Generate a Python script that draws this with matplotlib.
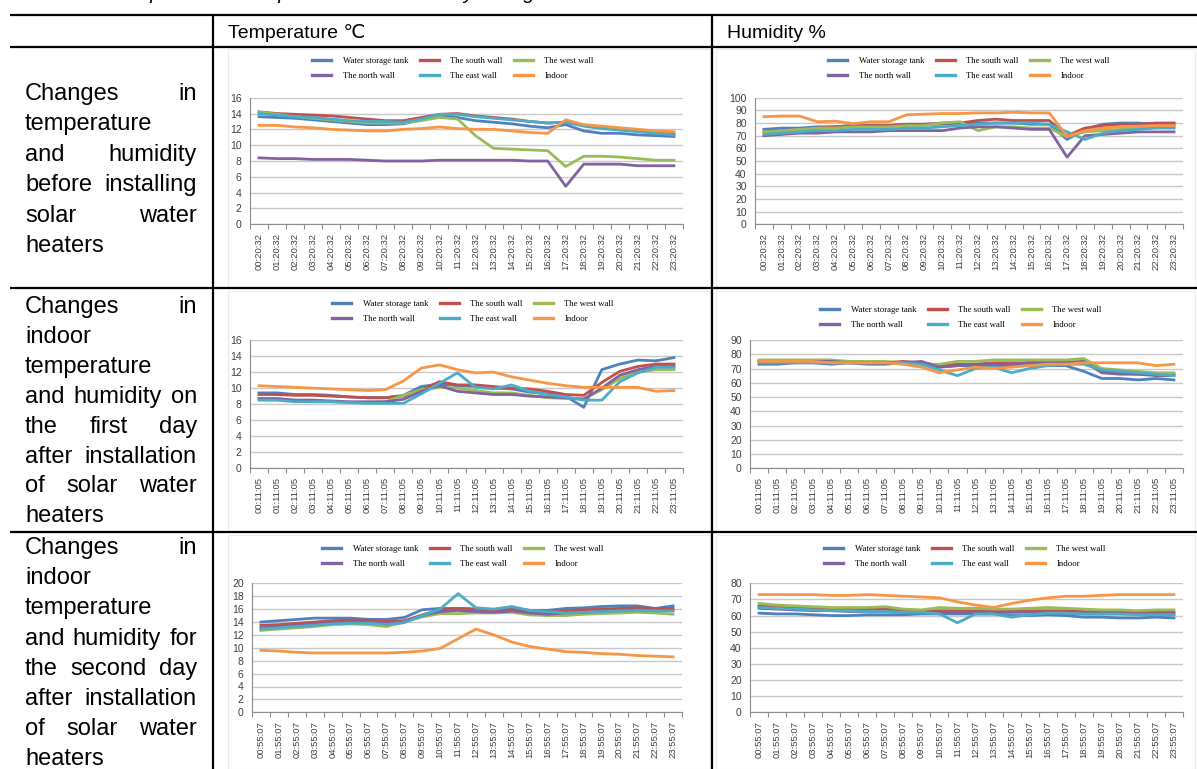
import numpy as np
import matplotlib
matplotlib.use("Agg")
import matplotlib.pyplot as plt
from matplotlib.lines import Line2D
from matplotlib.font_manager import FontProperties

W, H = 1197, 769
fig = plt.figure(figsize=(W / 100, H / 100), dpi=100)
fig.patch.set_facecolor("white")

# ---------------- data ----------------
series_names = ["Water storage tank", "The south wall", "The west wall",
                "The north wall", "The east wall", "Indoor"]
series_colors = ["#4F81BD", "#C0504D", "#9BBB59", "#8064A2", "#4BACC6", "#F79646"]

labels_before = ["%02d:20:32" % h for h in range(24)]
labels_day1 = ["%02d:11:05" % h for h in range(24)]
labels_day2 = ["%02d:55:07" % h for h in range(24)]

# Temperature before installation
t0_tank = [13.6, 13.5, 13.4, 13.2, 13.0, 12.8, 12.6, 12.6, 12.7, 13.2, 13.8, 13.5,
           13.1, 12.9, 12.7, 12.4, 12.2, 12.6, 11.8, 11.5, 11.5, 11.3, 11.2, 11.1]
t0_south = [14.2, 14.0, 13.9, 13.8, 13.7, 13.5, 13.3, 13.1, 13.1, 13.5, 13.9, 14.0,
            13.7, 13.5, 13.3, 13.0, 12.8, 12.9, 12.5, 12.2, 12.0, 11.8, 11.6, 11.4]
t0_west = [14.2, 13.9, 13.6, 13.4, 13.2, 13.0, 12.8, 12.8, 12.8, 13.1, 13.5, 13.3,
           11.2, 9.6, 9.5, 9.4, 9.3, 7.3, 8.6, 8.6, 8.5, 8.3, 8.1, 8.1]
t0_north = [8.4, 8.3, 8.3, 8.2, 8.2, 8.2, 8.1, 8.0, 8.0, 8.0, 8.1, 8.1,
            8.1, 8.1, 8.1, 8.0, 8.0, 4.8, 7.6, 7.6, 7.6, 7.4, 7.4, 7.4]
t0_east = [14.0, 13.8, 13.6, 13.5, 13.3, 13.1, 13.0, 13.0, 12.9, 13.3, 13.9, 13.9,
           13.6, 13.4, 13.2, 13.0, 12.8, 12.9, 12.4, 12.1, 11.9, 11.7, 11.5, 11.3]
t0_indoor = [12.5, 12.5, 12.3, 12.2, 12.0, 11.9, 11.8, 11.8, 12.0, 12.1, 12.3, 12.1,
             12.0, 12.0, 11.8, 11.6, 11.5, 13.2, 12.6, 12.4, 12.2, 12.0, 11.8, 11.7]

# Humidity before installation
h0_tank = [75, 76, 76, 77, 77, 78, 78, 78, 79, 79, 79, 80,
           80, 80, 80, 79, 79, 67, 75, 79, 80, 80, 79, 79]
h0_south = [73, 74, 75, 76, 77, 78, 78, 78, 79, 79, 80, 80,
            82, 83, 82, 82, 82, 70, 76, 78, 79, 79, 80, 80]
h0_west = [73, 74, 75, 76, 76, 77, 77, 77, 78, 78, 80, 81,
           74, 77, 77, 76, 76, 69, 73, 74, 75, 76, 77, 77]
h0_north = [70, 71, 72, 72, 73, 73, 73, 74, 74, 74, 74, 76,
            77, 77, 76, 75, 75, 53, 70, 71, 72, 73, 73, 73]
h0_east = [71, 72, 73, 74, 74, 75, 75, 75, 76, 76, 77, 78,
           79, 80, 80, 80, 79, 73, 67, 72, 74, 75, 76, 76]
h0_indoor = [85, 85.5, 85.5, 81, 81.5, 79.5, 81, 81, 86.5, 87, 87.5, 87.5,
             88, 88, 88.5, 88, 88, 69.5, 74, 76, 77, 77.5, 78, 78]

# Temperature, first day after installation
t1_tank = [9.4, 9.4, 9.2, 9.2, 9.1, 8.9, 8.8, 8.8, 9.1, 10.2, 10.5, 10.3,
           10.2, 10.0, 9.9, 9.5, 9.3, 9.0, 7.6, 12.3, 13.0, 13.5, 13.4, 13.8]
t1_south = [9.2, 9.2, 9.1, 9.1, 9.0, 8.9, 8.8, 8.8, 9.0, 9.8, 10.8, 10.4,
            10.4, 10.2, 10.0, 9.9, 9.6, 9.2, 9.1, 10.7, 12.1, 12.7, 13.0, 13.0]
t1_west = [8.7, 8.6, 8.4, 8.3, 8.3, 8.2, 8.2, 8.3, 9.1, 9.8, 10.1, 10.0,
           9.7, 9.4, 9.4, 9.1, 8.8, 8.7, 8.7, 9.8, 11.2, 12.0, 12.3, 12.3]
t1_north = [8.7, 8.7, 8.5, 8.5, 8.4, 8.3, 8.3, 8.3, 8.6, 9.6, 10.3, 9.6,
            9.4, 9.2, 9.2, 9.0, 8.9, 8.8, 8.6, 10.0, 11.6, 12.3, 12.7, 12.7]
t1_east = [8.5, 8.5, 8.3, 8.3, 8.3, 8.2, 8.1, 8.1, 8.1, 9.3, 10.6, 11.9,
           10.1, 9.9, 10.4, 9.6, 9.2, 8.9, 8.5, 8.5, 10.8, 11.9, 12.6, 12.6]
t1_indoor = [10.3, 10.2, 10.1, 10.0, 9.9, 9.8, 9.7, 9.8, 10.9, 12.5, 12.9, 12.3,
             11.9, 12.0, 11.4, 11.0, 10.6, 10.3, 10.1, 10.1, 10.1, 10.1, 9.6, 9.7]

# Humidity, first day after installation
h1_tank = [73, 73, 74, 74, 73, 74, 73, 73, 74, 73, 71, 72,
           72, 72, 72, 72, 72, 72, 68, 63, 63, 62, 63, 62]
h1_south = [75, 75, 75, 75, 75, 74, 74, 74, 75, 74, 72, 73,
            73, 74, 74, 74, 74, 74, 75, 68, 67, 66, 66, 66]
h1_west = [76, 76, 76, 76, 76, 75, 75, 75, 74, 73, 73, 75,
           75, 76, 76, 76, 76, 76, 77, 70, 69, 68, 67, 67]
h1_north = [75, 75, 75, 75, 75, 74, 74, 74, 74, 75, 71, 72,
            73, 73, 73, 74, 74, 74, 75, 67, 66, 66, 65, 65]
h1_east = [74, 74, 74, 74, 74, 74, 74, 74, 74, 73, 69, 65,
           70, 71, 67, 70, 72, 73, 73, 69, 68, 67, 66, 65]
h1_indoor = [75, 75, 75, 75, 74, 74, 74, 74, 73, 71, 67, 69,
             71, 70, 71, 72, 73, 73, 74, 74, 74, 74, 72, 73]

# Temperature, second day after installation
t2_tank = [14.0, 14.2, 14.4, 14.6, 14.6, 14.6, 14.4, 14.4, 14.7, 15.9, 16.1, 16.1,
           16.0, 15.9, 16.2, 15.8, 15.8, 16.1, 16.2, 16.4, 16.5, 16.5, 16.1, 16.5]
t2_south = [13.5, 13.6, 13.8, 14.0, 14.2, 14.3, 14.3, 14.1, 14.2, 15.1, 15.9, 16.1,
            16.0, 15.8, 16.0, 15.6, 15.5, 15.7, 15.9, 16.0, 16.1, 16.2, 16.1, 16.1]
t2_west = [12.7, 12.9, 13.1, 13.3, 13.6, 13.7, 13.6, 13.3, 14.0, 14.8, 15.3, 15.3,
           15.4, 15.4, 15.5, 15.1, 15.0, 15.0, 15.2, 15.3, 15.4, 15.5, 15.4, 15.2]
t2_north = [13.1, 13.3, 13.5, 13.7, 13.9, 14.0, 14.0, 13.8, 14.0, 15.0, 15.6, 15.8,
            15.6, 15.5, 15.7, 15.4, 15.2, 15.4, 15.5, 15.7, 15.8, 15.9, 15.8, 15.8]
t2_east = [12.9, 13.1, 13.3, 13.5, 13.7, 13.8, 13.8, 13.6, 13.9, 15.0, 16.0, 18.4,
           16.2, 16.0, 16.4, 15.8, 15.6, 15.4, 15.5, 15.6, 15.7, 15.8, 15.7, 15.7]
t2_indoor = [9.6, 9.5, 9.3, 9.2, 9.2, 9.2, 9.2, 9.2, 9.3, 9.5, 9.9, 11.4,
             12.9, 12.0, 10.9, 10.2, 9.8, 9.4, 9.3, 9.1, 9.0, 8.8, 8.7, 8.6]

# Humidity, second day after installation
h2_tank = [61.5, 61, 61, 60.5, 60, 60, 60.5, 60.5, 60.5, 61, 61, 61,
           61, 61, 60, 60, 60.5, 60, 59, 59, 58.5, 58.5, 59, 58.5]
h2_south = [66, 65.5, 65, 64.5, 64, 64, 64, 64, 63.5, 63, 63, 63,
            63, 63, 63.5, 63, 63, 63, 62.5, 62, 62, 62, 62, 62]
h2_west = [67.5, 66.5, 66, 65.5, 65, 65, 65, 65.5, 64, 63.5, 65, 64.5,
           64.5, 64, 64, 64.5, 65, 64.5, 64, 63.5, 63.5, 63, 63.5, 63.5]
h2_north = [64.5, 64, 63.5, 63, 63, 62.5, 62.5, 62.5, 62, 62, 62, 62,
            62, 62, 62, 62, 62, 61.5, 61, 61, 61, 61, 61, 61]
h2_east = [65, 64.5, 64, 63.5, 63, 63, 62.5, 62.5, 62, 62, 61, 55.5,
           61, 61, 59, 60.5, 61.5, 61.5, 61, 61, 61, 60.5, 60.5, 60.5]
h2_indoor = [73, 73, 73, 73, 72.5, 72.5, 73, 72.5, 72, 71.5, 71, 68.5,
             66.5, 65, 67.5, 69.5, 71, 72, 72, 72.5, 73, 73, 73, 73]

header_titles = ["Temperature \u2103", "Humidity %"]
row_texts = [
    ["Changes in", "temperature", "and humidity", "before installing",
     "solar water", "heaters"],
    ["Changes in", "indoor", "temperature", "and humidity on", "the first day",
     "after installation", "of solar water", "heaters"],
    ["Changes in", "indoor", "temperature", "and humidity for", "the second day",
     "after installation", "of solar water", "heaters"],
]
caption = "Table 3. Comparison of temperature and humidity changes"

# ---------------- helpers ----------------
def fx(x):
    return x / W

def fy(y):
    return 1 - y / H

def hline(y, x0, x1, lw=1.6, color="black"):
    fig.add_artist(Line2D([fx(x0), fx(x1)], [fy(y), fy(y)], color=color, lw=lw,
                          transform=fig.transFigure, solid_capstyle="butt"))

def vline(x, y0, y1, lw=1.6, color="black"):
    fig.add_artist(Line2D([fx(x), fx(x)], [fy(y0), fy(y1)], color=color, lw=lw,
                          transform=fig.transFigure, solid_capstyle="butt"))

renderer = fig.canvas.get_renderer()
body_fp = FontProperties(family="Liberation Sans", size=17)

def text_w(s, fp):
    w, h, d = renderer.get_text_width_height_descent(s, fp, ismath=False)
    return w

def justified(lines, y_first, dy, x0=25, x1=197):
    for i, line in enumerate(lines):
        y = y_first + i * dy
        words = line.split()
        last = (i == len(lines) - 1)
        if len(words) == 1 or last:
            fig.text(fx(x0), fy(y), line, fontproperties=body_fp, va="baseline",
                     ha="left", color="black")
            continue
        widths = [text_w(wd, body_fp) for wd in words]
        gap = (x1 - x0 - sum(widths)) / (len(words) - 1)
        x = x0
        for wd, wdt in zip(words, widths):
            fig.text(fx(x), fy(y), wd, fontproperties=body_fp, va="baseline",
                     ha="left", color="black")
            x += wdt + gap

def chart(rect, labels, ymax, ystep, data, legend_xy):
    l, t, r, b = rect
    ax = fig.add_axes([fx(l), fy(b), (r - l) / W, (b - t) / H])
    x = np.arange(len(labels))
    lines = []
    for vals, c, n in zip(data, series_colors, series_names):
        ln, = ax.plot(x, vals, color=c, lw=2.0, label=n, solid_joinstyle="round")
        lines.append(ln)
    ax.set_xlim(-0.5, len(labels) - 0.5)
    ax.set_ylim(0, ymax)
    ax.set_yticks(np.arange(0, ymax + 0.1, ystep))
    ax.set_xticks(x)
    ax.set_xticklabels(labels, rotation=90, fontsize=6.8, color="#404040",
                       family="Liberation Sans")
    ax.set_xticks(np.arange(-0.5, len(labels), 1), minor=True)
    ax.tick_params(axis="x", which="major", length=0, pad=6)
    ax.tick_params(axis="x", which="minor", length=3.5, color="#8c8c8c", width=0.8)
    ax.tick_params(axis="y", length=0, pad=6, labelsize=7.5, labelcolor="#404040")
    for lab in ax.get_yticklabels():
        lab.set_family("Liberation Sans")
    ax.yaxis.grid(True, color="#c8c8c8", lw=1.0)
    ax.set_axisbelow(True)
    for s in ["top", "right"]:
        ax.spines[s].set_visible(False)
    ax.spines["left"].set_color("#8c8c8c")
    ax.spines["left"].set_linewidth(0.8)
    ax.spines["bottom"].set_color("#8c8c8c")
    ax.spines["bottom"].set_linewidth(0.8)
    ax.set_facecolor("none")
    order = [0, 3, 1, 4, 2, 5]
    lx, ly = legend_xy
    fig.legend([lines[i] for i in order], [series_names[i] for i in order],
               loc="upper left", bbox_to_anchor=(fx(lx), fy(ly - 6)),
               ncol=3, frameon=False, borderpad=0, borderaxespad=0,
               handlelength=2.2, handletextpad=1.3, columnspacing=1.3,
               labelspacing=0.75,
               prop=FontProperties(family="Liberation Serif", size=6.3))
    for lg in fig.legends[-1:]:
        for h in lg.legend_handles:
            h.set_linewidth(2.4)
    return ax

# ---------------- table frame ----------------
for y in [15, 47, 288, 532]:
    hline(y, 10, W)
vline(213, 15, H)
vline(712, 15, H)

# faint chart image borders
for (x0, y0, x1, y1) in [(228, 49, 710, 287), (716, 49, W - 2, 287),
                         (228, 291, 710, 531), (716, 291, W - 2, 531),
                         (228, 535, 710, H), (716, 535, W - 2, H)]:
    fig.add_artist(plt.Rectangle((fx(x0), fy(y1)), (x1 - x0) / W, (y1 - y0) / H,
                                 transform=fig.transFigure, fill=False,
                                 edgecolor="#ececec", lw=0.8))

# caption, cut by the top edge as in the source page
cap_fp = FontProperties(family="Liberation Sans", style="italic", size=14.5)
prefix_w = text_w("Table 3. Com", cap_fp)
fig.text(fx(150 - prefix_w), fy(-0.8), caption, fontproperties=cap_fp,
         va="baseline", ha="left", color="black")

# header
head_fp = FontProperties(family=["Liberation Sans", "DejaVu Sans"], size=14)
fig.text(fx(228), fy(37.5), header_titles[0], fontproperties=head_fp,
         va="baseline", ha="left")
fig.text(fx(727), fy(37.5), header_titles[1], fontproperties=head_fp,
         va="baseline", ha="left")

# left column text
justified(row_texts[0], 100, 30.4)
justified(row_texts[1], 313, 29.9)
justified(row_texts[2], 554, 30.2)

# ---------------- charts ----------------
chart((250, 97.7, 683, 224.3), labels_before, 16, 2,
      [t0_tank, t0_south, t0_west, t0_north, t0_east, t0_indoor], (312, 63))
chart((755, 97.7, 1183, 224.3), labels_before, 100, 10,
      [h0_tank, h0_south, h0_west, h0_north, h0_east, h0_indoor], (828, 63))
chart((250, 340, 683, 468.3), labels_day1, 16, 2,
      [t1_tank, t1_south, t1_west, t1_north, t1_east, t1_indoor], (332, 306))
chart((750, 340, 1183, 468.3), labels_day1, 90, 10,
      [h1_tank, h1_south, h1_west, h1_north, h1_east, h1_indoor], (820, 312))
chart((252, 583.3, 682, 712.3), labels_day2, 20, 2,
      [t2_tank, t2_south, t2_west, t2_north, t2_east, t2_indoor], (322, 551))
chart((750, 583.3, 1183, 712.3), labels_day2, 80, 10,
      [h2_tank, h2_south, h2_west, h2_north, h2_east, h2_indoor], (824, 551))

fig.savefig("out.png", dpi=100)
